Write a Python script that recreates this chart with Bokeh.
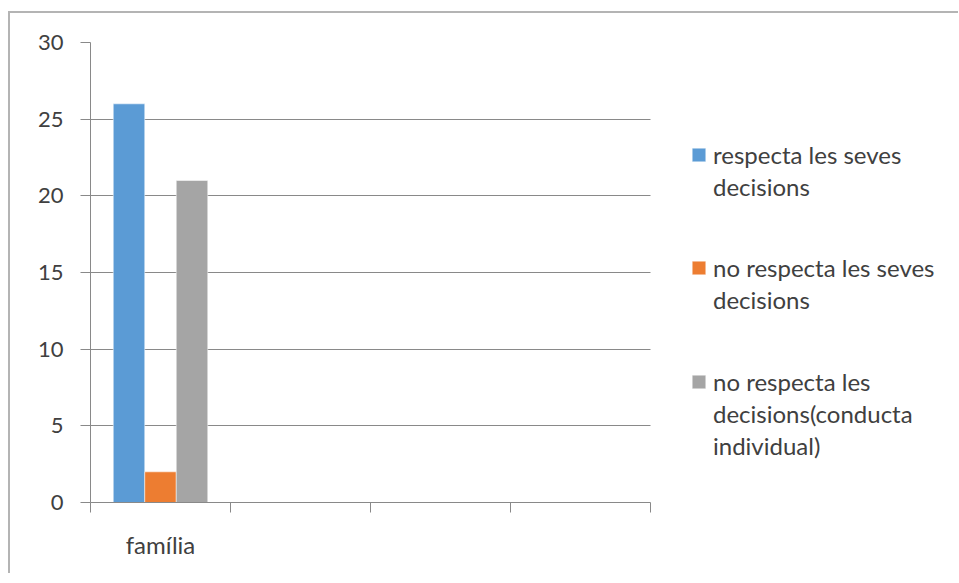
from bokeh.plotting import figure
from bokeh.models import ColumnDataSource, FixedTicker, Legend, LegendItem, Range1d
from bokeh.transform import dodge
from bokeh.embed import file_html
from bokeh.resources import INLINE

# ---- data ----
categories = ["família", "", "", ""]
series_lines = [
    ["respecta les seves", "decisions"],
    ["no respecta les seves", "decisions"],
    ["no respecta les", "decisions(conducta", "individual)"],
]
respecta = [26, None, None, None]
no_respecta = [2, None, None, None]
conducta_individual = [21, None, None, None]
colors = ["#5B9BD5", "#ED7D31", "#A5A5A5"]
y_ticks = [0, 5, 10, 15, 20, 25, 30]

FONT = "Lato"
FS_TICK = "22px"
FS = "24px"
TXT = "#404040"
GRID = "#898989"

n = len(categories)
centers = [i + 0.5 for i in range(n)]
src = ColumnDataSource(dict(
    x=centers,
    s0=[v if v is not None else 0 for v in respecta],
    s1=[v if v is not None else 0 for v in no_respecta],
    s2=[v if v is not None else 0 for v in conducta_individual],
))

# frame spans the legend area too; category area is 140 px per category
PX_PER_CAT = 140
FRAME_W = 861
x_end = FRAME_W / PX_PER_CAT

p = figure(
    output_backend="svg", toolbar_location=None,
    frame_width=FRAME_W, frame_height=460,
    min_border_left=80, min_border_right=7, min_border_top=29, min_border_bottom=71,
    x_range=Range1d(0, x_end), y_range=Range1d(0, 30),
    tools="",
)
p.styles = {"border-top": "2px solid #b4b4b4", "border-left": "2px solid #b4b4b4",
            "margin-top": "11px", "margin-left": "8px"}
p.outline_line_color = None
p.background_fill_color = "white"
p.border_fill_color = "white"

bw = 0.225
renderers = []
for j, key in enumerate(["s0", "s1", "s2"]):
    r = p.vbar(x=dodge("x", (j - 1) * bw, range=p.x_range), top=key, width=bw, bottom=0,
               source=src, fill_color=colors[j], line_color="white", line_width=0.5)
    renderers.append(r)

# x axis
p.xaxis.ticker = FixedTicker(ticks=centers, minor_ticks=list(range(n + 1)))
p.xaxis.bounds = (0, n)
p.xaxis.major_label_overrides = {c: lab for c, lab in zip(centers, categories)}
p.xaxis.major_tick_line_color = None
p.xaxis.major_tick_out = 0
p.xaxis.major_tick_in = 0
p.xaxis.minor_tick_line_color = GRID
p.xaxis.minor_tick_out = 10
p.xaxis.minor_tick_in = 0
p.xaxis.axis_line_color = GRID
p.xaxis.major_label_standoff = 17
p.xaxis.major_label_text_font = FONT
p.xaxis.major_label_text_font_size = FS
p.xaxis.major_label_text_color = TXT

# y axis
p.yaxis.ticker = FixedTicker(ticks=y_ticks)
p.yaxis.major_tick_line_color = GRID
p.yaxis.major_tick_out = 10
p.yaxis.major_tick_in = 0
p.yaxis.minor_tick_line_color = None
p.yaxis.axis_line_color = GRID
p.yaxis.major_label_standoff = 17
p.yaxis.major_label_text_font = FONT
p.yaxis.major_label_text_font_size = FS_TICK
p.yaxis.major_label_text_color = TXT

p.xgrid.grid_line_color = None
yg = p.ygrid[0]
yg.ticker = FixedTicker(ticks=y_ticks)
if hasattr(yg, "cross_bounds"):
    yg.grid_line_color = GRID
    yg.cross_bounds = (0, n)
else:
    yg.grid_line_color = None
    p.segment(x0=[0] * len(y_ticks), x1=[n] * len(y_ticks), y0=y_ticks, y1=y_ticks,
              line_color=GRID, line_width=1, level="underlay")

# one legend block per series, one entry per text line (glyph on the first line)
bottoms = [301.5, 188.5, 42.5]
for lines, r, vy in zip(series_lines, renderers, bottoms):
    items = [LegendItem(label=ln, renderers=[r] if k == 0 else []) for k, ln in enumerate(lines)]
    lg = Legend(
        items=items, location=(600, vy),
        padding=0, margin=0, spacing=3,
        glyph_width=17, glyph_height=17, label_standoff=6, label_height=17,
        label_text_font=FONT, label_text_font_size=FS, label_text_color=TXT,
        border_line_color=None, background_fill_alpha=0,
    )
    p.add_layout(lg)

open("out.html", "w").write(file_html(p, INLINE))
